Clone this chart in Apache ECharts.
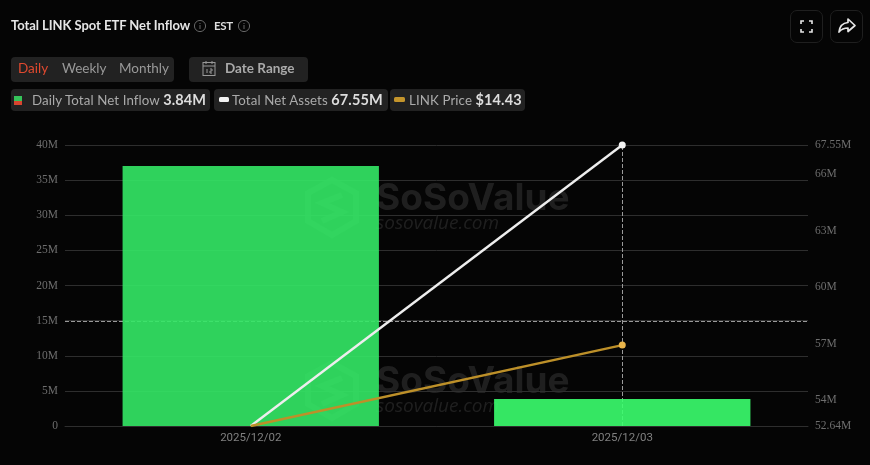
<!DOCTYPE html>
<html>
<head>
<meta charset="utf-8">
<title>Total LINK Spot ETF Net Inflow</title>
<script src="https://cdn.jsdelivr.net/npm/echarts@6/dist/echarts.min.js"></script>
<style>
  html, body { margin: 0; padding: 0; background: #050505; overflow: hidden; }
  #wrap { position: relative; width: 870px; height: 465px; font-family: Lato, sans-serif; color: #aaa; }
  #chart { position: absolute; left: 0; top: 0; width: 870px; height: 465px; }
  .abs { position: absolute; white-space: nowrap; z-index: 2; }
  .pill { position: absolute; background: #222; border-radius: 4px; z-index: 1; }
  .btn { position: absolute; border: 1px solid #1f1f1f; border-radius: 7px; width: 31px; height: 31px; z-index: 2; top: 10px; }
  b { color: #ddd; font-weight: 700; }
</style>
</head>
<body>
<div id="wrap">
  <div id="chart"></div>

  <div class="abs" style="left:11px;top:17px;font-size:13px;font-weight:700;color:#e6e6e6;letter-spacing:-.05px">Total LINK Spot ETF Net Inflow</div>
  <svg class="abs" style="left:193px;top:19px" width="14" height="14" viewBox="0 0 14 14" fill="none" stroke="#666"><circle cx="7" cy="7" r="5.6"/><path d="M7 6v4M7 4v1"/></svg>
  <div class="abs" style="left:214px;top:19px;font-size:11.5px;font-weight:700;color:#ddd;letter-spacing:-.3px">EST</div>
  <svg class="abs" style="left:237px;top:19px" width="14" height="14" viewBox="0 0 14 14" fill="none" stroke="#666"><circle cx="7" cy="7" r="5.6"/><path d="M7 6v4M7 4v1"/></svg>

  <div class="pill" style="left:11px;top:57px;width:163px;height:25px"></div>
  <div class="abs" style="left:18px;top:60px;font-size:13.5px;color:#e0492f">Daily</div>
  <div class="abs" style="left:62px;top:60px;font-size:13.5px;color:#999">Weekly</div>
  <div class="abs" style="left:119px;top:60px;font-size:13.5px;color:#999">Monthly</div>

  <div class="pill" style="left:189px;top:57px;width:119px;height:25px"></div>
  <svg class="abs" style="left:201px;top:60px" width="16" height="17" viewBox="0 0 16 17" fill="none" stroke="#999"><rect x="2" y="2.500" width="12" height="13"/><path d="M2 6h12M5 1v3M11 1v3M6 9v4M9 9h2v2H9v2h2"/></svg>
  <div class="abs" style="left:225px;top:60px;font-size:13.5px;font-weight:700;color:#aaa">Date Range</div>

  <div class="pill" style="left:11px;top:89px;width:199px;height:22px"></div>
  <svg class="abs" style="left:14px;top:96px" width="9" height="11"><rect width="8" height="5" y="0" fill="#35c45a"/><rect width="8" height="4" y="5" fill="#d8452f"/></svg>
  <div class="abs" style="left:32px;top:91px;font-size:13.3px;letter-spacing:.1px">Daily Total Net Inflow <b style="font-size:14.5px">3.84M</b></div>

  <div class="pill" style="left:214px;top:89px;width:174px;height:22px"></div>
  <svg class="abs" style="left:219px;top:97px" width="10" height="5"><rect width="10" height="5" rx="1.500" fill="#f2f2f2"/></svg>
  <div class="abs" style="left:232px;top:91px;font-size:13.3px;letter-spacing:.1px">Total Net Assets <b style="font-size:14.5px">67.55M</b></div>

  <div class="pill" style="left:390px;top:89px;width:135px;height:22px"></div>
  <svg class="abs" style="left:394px;top:97px" width="11" height="5"><rect width="11" height="5" rx="1.500" fill="#c4952c"/></svg>
  <div class="abs" style="left:409px;top:91px;font-size:13.3px;letter-spacing:.1px">LINK Price <b style="font-size:14.5px">$14.43</b></div>

  <div class="btn" style="left:790px">
    <svg width="31" height="31" viewBox="0 0 31 31" fill="none" stroke="#e6e6e6" stroke-width="1.6"><path d="M10 13v-3h3M18 10h3v3M21 18v3h-3M13 21h-3v-3"/></svg>
  </div>
  <div class="btn" style="left:830px">
    <svg width="31" height="31" viewBox="0 0 31 31" fill="none" stroke="#e6e6e6" stroke-width="1.7" stroke-linejoin="round"><path d="M17 8l7 6.500-7 6v-3.500c-4 0-6.500 1-9 4 .5-5 3.500-9 9-9.500z"/></svg>
  </div>
</div>

<script>
// values
var dates = ['2025/12/02', '2025/12/03'];
var netInflow = [37.0, 3.84];
var netAssets = [52.64, 67.55];
var linkPrice = [13.5, 14.43];
var barColors = ['rgba(52,233,102,0.9)', 'rgba(59,255,110,0.9)'];
var leftTicks = [0, 5, 10, 15, 20, 25, 30, 35, 40];
var rightTicks = [52.64, 54, 57, 60, 63, 66, 67.55];

var myChart = echarts.init(document.getElementById('chart'));
var gridColor = '#2e2e2e';
var labelColor = '#6e6e6e';
var wmColor = 'rgba(70,70,70,0.42)';

function watermark(y) {
  return {
    type: 'group', left: 305, top: y, z: 50, silent: true,
    children: [
      { type: 'polygon', shape: { points: [[28, 2], [52, 15], [52, 43], [28, 57], [4, 43], [4, 15]] },
        style: { fill: 'none', stroke: wmColor, lineWidth: 6 } },
      { type: 'polyline', shape: { points: [[38, 17], [18, 25], [38, 34], [18, 43]] },
        style: { fill: 'none', stroke: wmColor, lineWidth: 6 } },
      { type: 'text', x: 72, y: 2, style: { text: 'SoSoValue', fill: wmColor, font: '700 37px Inter, sans-serif' } },
      { type: 'text', x: 72, y: 36, style: { text: 'sosovalue.com', fill: wmColor, font: 'italic 400 19px "Open Sans", sans-serif' } }
    ]
  };
}

myChart.setOption({
  backgroundColor: '#050505',
  animation: false,
  grid: { left: 65, right: 62, top: 145, bottom: 39 },
  graphic: [watermark(177), watermark(360)],
  xAxis: {
    type: 'category',
    data: dates,
    axisTick: { show: false },
    axisLine: { lineStyle: { color: gridColor } },
    axisLabel: { color: '#808080', fontSize: 11.5, fontFamily: 'Roboto, sans-serif', margin: 6 }
  },
  yAxis: [
    {
      type: 'value', min: 0, max: 40, interval: 5,
      axisLine: { show: false }, axisTick: { show: false },
      splitLine: { lineStyle: { color: gridColor } },
      axisLabel: {
        color: labelColor, fontSize: 11.5, fontFamily: '"Liberation Serif", serif', margin: 7,
        customValues: leftTicks,
        formatter: function (v) { return v === 0 ? '0' : v + 'M'; }
      }
    },
    {
      type: 'value', position: 'right', min: 52.64, max: 67.55,
      axisLine: { show: false }, axisTick: { show: false },
      splitLine: { show: false },
      axisLabel: {
        color: labelColor, fontSize: 11.5, fontFamily: '"Liberation Serif", serif', margin: 7,
        customValues: rightTicks,
        formatter: function (v) { return v + 'M'; }
      }
    },
    { type: 'value', show: false, min: 13.5, max: 16.73, splitLine: { show: false } }
  ],
  series: [
    {
      name: 'Daily Total Net Inflow',
      type: 'bar',
      yAxisIndex: 0,
      barWidth: '69%',
      z: 3,
      data: netInflow.map(function (v, i) { return { value: v, itemStyle: { color: barColors[i] } }; }),
      markLine: {
        silent: true, symbol: 'none', z: 1,
        label: { show: false },
        lineStyle: { color: '#9a9a9a', type: 'dashed', width: 1 },
        data: [{ yAxis: 14.95 }, { xAxis: dates[1] }]
      }
    },
    {
      name: 'Total Net Assets',
      type: 'line',
      yAxisIndex: 1,
      z: 5,
      data: netAssets,
      showAllSymbol: true,
      symbol: function (v, p) { return p.dataIndex === 1 ? 'circle' : 'none'; },
      symbolSize: 7,
      itemStyle: { color: '#f4f4f4' },
      lineStyle: { color: '#eeeeee', width: 2.4 }
    },
    {
      name: 'LINK Price',
      type: 'line',
      yAxisIndex: 2,
      z: 5,
      data: linkPrice,
      showAllSymbol: true,
      symbol: function (v, p) { return p.dataIndex === 1 ? 'circle' : 'none'; },
      symbolSize: 7,
      itemStyle: { color: '#eab54a' },
      lineStyle: { color: '#bd9029', width: 2.4 }
    }
  ]
});
</script>
</body>
</html>
